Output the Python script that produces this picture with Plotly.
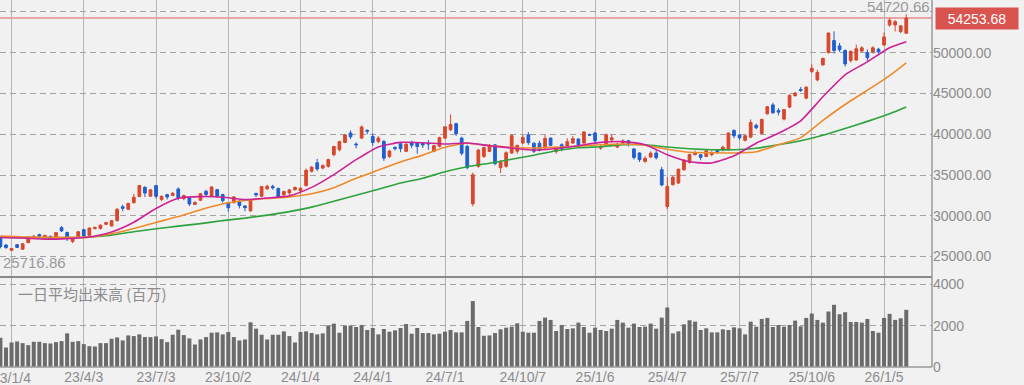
import pandas as pd
import plotly.graph_objects as go

# ---------------- data (weekly) ----------------
first_week = "2022-12-19"
n_weeks = 164
weeks = pd.date_range(first_week, periods=n_weeks, freq="7D")

opens = [27300, 26400, 25760, 26450, 25900, 26700, 27250, 27690, 27330, 27480,
         27330, 28550, 27950, 26850, 27400, 28300, 27600, 28450, 28450, 28950,
         28750, 29400, 31100, 30800, 31600, 32350, 33500, 32400, 33700, 32000,
         32590, 32500, 33280, 32100, 32200, 31400, 31900, 33000, 32400, 33200,
         32600, 31600, 31600, 31800, 31200, 30600, 32750, 32400, 33300, 33600,
         33350, 32600, 32800, 33200, 33050, 33700, 35450, 36500, 35850, 36060,
         37490, 38100, 39000, 40150, 38800, 39530, 40470, 39730, 39120, 39120,
         37280, 38390, 38840, 37900, 39000, 38920, 38900, 38900, 37900, 38510,
         39530, 40550, 41300, 39530, 38510, 31458, 36060, 37280, 37900, 38700,
         35900, 36060, 37700, 37919, 38920, 39940, 38900, 38900, 38310, 39530,
         37900, 38710, 38510, 38920, 39410, 38920, 39950, 40150, 38300, 38710,
         39300, 38430, 38920, 39200, 38190, 37700, 36670, 37210, 37700, 35650,
         31136, 33820, 34020, 35650, 36550, 37500, 37490, 37280, 37500, 38000,
         38100, 38100, 40470, 39900, 39260, 39650, 41100, 40100, 42510, 43600,
         42900, 41860, 43330, 44750, 45500, 44430, 47690, 46670, 48510, 50020,
         51490, 50840, 50270, 49040, 49120, 50200, 50020, 50100, 50430, 50960,
         53400, 53410, 52590, 52390]
highs = [27500, 26550, 26050, 26550, 26650, 27450, 27600, 27800, 27650, 27550,
         28000, 28734, 28050, 27400, 28100, 28400, 28550, 28700, 28900, 29250,
         29450, 30900, 31350, 31600, 32700, 33772, 33600, 33250, 33762, 32500,
         32700, 32900, 33488, 32600, 32300, 31800, 32800, 33200, 33600, 33300,
         32700, 31700, 32400, 31900, 31300, 32050, 32800, 33650, 33800, 33800,
         33450, 33100, 33300, 33600, 33500, 35800, 36100, 36984, 36300, 37000,
         38600, 39200, 40000, 40472, 39000, 41087, 40600, 40100, 39770, 39300,
         38100, 38500, 38900, 38900, 39200, 39000, 39000, 39300, 38700, 39700,
         41000, 42426, 41400, 39700, 38700, 35300, 38200, 38500, 38800, 38800,
         36800, 37900, 39981, 38700, 39900, 40250, 39000, 39200, 39900, 39600,
         38500, 38900, 39500, 39800, 39500, 40400, 40100, 40300, 38800, 40100,
         40000, 39000, 39400, 39300, 38300, 37800, 37300, 37900, 38200, 36000,
         34700, 34900, 35800, 36900, 37600, 38000, 37600, 38100, 38000, 38200,
         38600, 40200, 40600, 40000, 40000, 41826, 41300, 41900, 43451, 43876,
         43200, 43100, 44900, 45200, 45800, 45900, 48580, 47900, 49400, 52500,
         52636, 51200, 50400, 50300, 51000, 50800, 50400, 50800, 50600, 52500,
         54200, 54000, 53400, 54720.66]
lows = [26000, 25950, 25716.86, 26050, 25800, 26650, 27150, 27350, 27250, 27050,
        27250, 28000, 26900, 26630, 27300, 27400, 27500, 28300, 28300, 28850,
        28700, 29300, 30550, 30700, 31500, 32300, 32300, 32300, 32100, 31790,
        32000, 32400, 31900, 31900, 31200, 31300, 31800, 32400, 32300, 32200,
        31600, 30487, 31500, 30900, 30550, 30500, 32300, 32300, 33200, 33200,
        32200, 32200, 32500, 33100, 32700, 33600, 35300, 35500, 35700, 35900,
        37300, 37900, 38900, 39400, 38270, 39400, 40000, 38600, 38900, 36733,
        37100, 38000, 37800, 37800, 38300, 37617, 38300, 38100, 37800, 38400,
        39400, 40400, 39800, 37400, 35700, 31156, 35900, 37100, 37800, 36200,
        35250, 35900, 37600, 37600, 38800, 38700, 37700, 37900, 38200, 38500,
        37600, 37900, 38400, 38800, 38600, 38800, 39800, 38800, 38100, 38600,
        39000, 38300, 38800, 38500, 36900, 36600, 36500, 37100, 36900, 33600,
        30792, 33700, 33900, 35500, 36400, 37400, 36800, 37200, 37300, 37600,
        37900, 38000, 39500, 39300, 39100, 39500, 40600, 40000, 42400, 42500,
        42300, 41700, 43200, 44600, 45200, 44300, 47500, 46500, 48400, 49900,
        49900, 50100, 48300, 48800, 49000, 50100, 49000, 49900, 49900, 50800,
        53200, 52600, 52400, 52300]
closes = [26235, 26095, 25974, 26120, 26554, 27382, 27509, 27420, 27600, 27100,
          27927, 28143, 27333, 27200, 28041, 27518, 28493, 28564, 28856, 29157,
          29388, 30808, 30916, 31524, 32265, 33706, 32781, 33189, 32388, 32391,
          32304, 32759, 32192, 32473, 31450, 31624, 32710, 32606, 33533, 32402,
          31857, 30994, 32315, 31259, 30991, 31950, 32568, 33585, 33626, 33432,
          32308, 32970, 33169, 33464, 33377, 35577, 35963, 35751, 36158, 36897,
          38487, 39098, 39910, 39688, 38707, 40888, 40369, 38992, 39523, 37068,
          37934, 38236, 38229, 38787, 38646, 38488, 38683, 38814, 38596, 39583,
          40912, 41190, 40063, 37667, 35909, 35025, 38062, 38364, 38647, 36391,
          36581, 37723, 39829, 38635, 39605, 38981, 37913, 38053, 39500, 38642,
          38284, 38208, 39091, 39470, 38701, 40281, 39895, 39190, 38451, 39931,
          39572, 38787, 39149, 38776, 37155, 36887, 37053, 37677, 37120, 33780,
          33585, 34730, 35705, 36831, 37503, 37753, 37160, 37965, 37741, 37834,
          38403, 40150, 39811, 39570, 39819, 41456, 40800, 41820, 43378, 42633,
          42718, 43018, 44768, 45045, 45354, 45769, 48088, 47582, 49299, 52411,
          50276, 50376, 48625, 50167, 50491, 50600, 49400, 50600, 50100, 51940,
          54000, 53810, 53300, 54253.68]
volume = [1415, 943, 1187, 1236, 1154, 1057, 1220, 1220, 1154, 1138,
          1203, 1252, 1626, 1220, 1252, 1106, 1008, 992, 1154, 1154,
          1366, 1431, 1285, 1528, 1496, 1577, 1447, 1447, 1480, 1350,
          1203, 1561, 1805, 1545, 1382, 1089, 1333, 1447, 1659, 1675,
          1577, 1691, 1447, 1285, 1333, 2163, 1854, 1561, 1333, 1561,
          1561, 1724, 1496, 1187, 1691, 1724, 1642, 1577, 1626, 2016,
          2098, 1659, 2000, 2000, 1935, 2033, 1789, 1886, 1577, 1837,
          1707, 1772, 1886, 2081, 1610, 1886, 1642, 1642, 1577, 1610,
          1707, 1789, 1675, 1675, 2228, 3187, 1935, 1512, 1528, 1642,
          1821, 1902, 1951, 2114, 1707, 1659, 1659, 2228, 2390, 2276,
          1740, 2033, 1837, 1870, 2146, 1935, 1659, 1902, 1789, 1740,
          1854, 2276, 2146, 1902, 2098, 1935, 1951, 2098, 1854, 2390,
          2878, 1626, 1724, 2065, 2260, 2195, 1789, 1870, 1675, 1675,
          1821, 1789, 1919, 1870, 1577, 2195, 1951, 2325, 2374, 1935,
          2033, 1951, 2033, 2244, 1967, 2374, 2585, 2276, 2146, 2683,
          3008, 2553, 2650, 2179, 2179, 2146, 2325, 1740, 1659, 2374,
          2569, 2276, 2358, 2764]

# moving averages every 4 weeks (week numbers)
ma_weeks = [0, 4, 8, 12, 16, 20, 24, 28, 32, 36, 40, 44, 48, 52, 56, 60, 64, 68,
            72, 76, 80, 84, 88, 92, 96, 100, 104, 108, 112, 116, 120, 124, 128,
            132, 136, 140, 144, 148, 152, 156, 160, 163]
ma13 = [27330, 27270, 27140, 27200, 27390, 28000, 29200, 30900, 32150, 32350,
        32280, 31990, 32180, 32450, 33480, 35050, 36880, 38450, 39000, 38950,
        38800, 38930, 38590, 38310, 38050, 38250, 38600, 39000, 39100, 38710,
        37490, 36630, 36480, 37360, 38900, 40120, 41650, 44600, 47290, 48880,
        50620, 51360]
ma26 = [27500, 27400, 27370, 27360, 27380, 27800, 28450, 29180, 29900, 30750,
        31450, 31870, 32120, 32320, 32700, 33450, 34600, 35600, 36600, 37440,
        38400, 38900, 38600, 38380, 38310, 38410, 38530, 38710, 38800, 38650,
        38160, 37790, 37730, 37700, 37850, 38710, 39590, 41700, 43650, 45400,
        47200, 48770]
ma52 = [27360, 27330, 27300, 27300, 27390, 27630, 28050, 28400, 28730, 29040,
        29410, 29710, 30080, 30510, 31060, 31770, 32530, 33260, 34020, 34610,
        35410, 36020, 36450, 36940, 37430, 37980, 38350, 38470, 38710, 38710,
        38430, 38220, 38100, 38100, 38290, 38710, 39200, 39880, 40714, 41580,
        42520, 43350]

tick_dates = ["2023-01-02", "2023-04-03", "2023-07-03", "2023-10-02", "2024-01-01",
              "2024-04-01", "2024-07-01", "2024-10-07", "2025-01-06", "2025-04-07",
              "2025-07-07", "2025-10-06", "2026-01-05"]
tick_labels = ["23/1/4", "23/4/3", "23/7/3", "23/10/2", "24/1/4", "24/4/1", "24/7/1",
               "24/10/7", "25/1/6", "25/4/7", "25/7/7", "25/10/6", "26/1/5"]

price_ticks = [25000, 30000, 35000, 40000, 45000, 50000, 55000]
price_labels = ["25000.00", "30000.00", "35000.00", "40000.00", "45000.00", "50000.00", ""]
vol_ticks = [0, 2000, 4000]
vol_labels = ["0", "2000", "4000"]

last_close = closes[-1]
max_high = max(highs)
min_low = min(lows)

# ---------------- style ----------------
BG = "#f1f1f1"
UP = "#d8472c"
DOWN = "#1f5fd0"
GRID_H = "#a3a3a3"
GRID_V = "#b4b4b4"
TXT = "#8c8c8c"
FONT = "Liberation Sans, Arial, sans-serif"

ma_x = [weeks[i] for i in ma_weeks]

fig = go.Figure()
fig.add_trace(go.Candlestick(
    x=weeks, open=opens, high=highs, low=lows, close=closes,
    increasing=dict(line=dict(color=UP, width=1), fillcolor=UP),
    decreasing=dict(line=dict(color=DOWN, width=1), fillcolor=DOWN),
    whiskerwidth=0, xaxis="x", yaxis="y", hoverinfo="skip"))
for vals, col in [(ma52, "#2ea23c"), (ma26, "#ef8a2b"), (ma13, "#cc2297")]:
    fig.add_trace(go.Scatter(x=ma_x, y=vals, mode="lines",
                             line=dict(color=col, width=1.6, shape="spline", smoothing=0.6),
                             xaxis="x", yaxis="y", hoverinfo="skip"))
fig.add_trace(go.Bar(x=weeks, y=volume, marker=dict(color="#6b6b6b", line=dict(width=0)),
                     xaxis="x2", yaxis="y2", hoverinfo="skip"))

x_range = ["2022-12-18 11:00", "2026-03-06 10:00"]
split = 90 / 367

# first tick label sits on the left edge and is drawn as an annotation (cut by the edge)
axis_labels = [""] + tick_labels[1:]

fig.update_layout(
    width=1024, height=385,
    margin=dict(l=0, r=92, t=0, b=18),
    paper_bgcolor=BG, plot_bgcolor=BG,
    showlegend=False, hovermode=False,
    bargap=0.28,
    font=dict(family=FONT, color=TXT, size=14),
    xaxis=dict(domain=[0, 1], anchor="y", type="date", range=x_range,
               tickvals=tick_dates, ticktext=tick_labels, showticklabels=False,
               showgrid=True, gridcolor=GRID_V, gridwidth=1, zeroline=False,
               showline=False, ticks="", rangeslider=dict(visible=False)),
    xaxis2=dict(domain=[0, 1], anchor="y2", type="date", range=x_range, matches="x",
                tickvals=tick_dates, ticktext=axis_labels, showticklabels=True,
                tickfont=dict(size=14, color=TXT, family=FONT),
                showgrid=True, gridcolor=GRID_V, gridwidth=1, zeroline=False,
                showline=False, ticks=""),
    yaxis=dict(domain=[split, 1], anchor="x", side="right", range=[22489, 56469],
               tickvals=price_ticks, ticktext=price_labels,
               tickfont=dict(size=14, color=TXT, family=FONT),
               showgrid=True, gridcolor=GRID_H, griddash="6px,4px", gridwidth=1,
               zeroline=False, showline=False, ticks=""),
    yaxis2=dict(domain=[0, split], anchor="x2", side="right", range=[0, 4353],
                tickvals=vol_ticks, ticktext=vol_labels,
                tickfont=dict(size=14, color=TXT, family=FONT),
                showgrid=True, gridcolor=GRID_H, griddash="6px,4px", gridwidth=1,
                zeroline=False, showline=False, ticks=""),
)

shapes = [
    dict(type="line", xref="paper", yref="y", x0=0, x1=1, y0=last_close, y1=last_close,
         line=dict(color="#eba4a4", width=2), layer="below"),
    dict(type="line", xref="paper", yref="paper", x0=0, x1=1, y0=split, y1=split,
         line=dict(color="#8a8a8a", width=2)),
    dict(type="line", xref="paper", yref="paper", x0=1, x1=1, y0=0, y1=1,
         line=dict(color="#9a9a9a", width=1.5)),
    dict(type="line", xref="paper", yref="paper", x0=0, x1=1, y0=0, y1=0,
         line=dict(color="#9a9a9a", width=1.5)),
]
fig.update_layout(shapes=shapes)

annotations = [
    dict(xref="paper", yref="y", x=1, y=last_close, xanchor="left", yanchor="middle",
         xshift=3, text=f"{last_close:.2f}", showarrow=False,
         bgcolor="#d9534f", font=dict(color="white", size=14, family=FONT),
         width=78, height=17, borderpad=2, align="center"),
    dict(xref="paper", yref="y", x=1, y=max_high, xanchor="right", yanchor="bottom",
         yshift=-3, text=f"{max_high:.2f}", showarrow=False,
         font=dict(color="#9a9a9a", size=15, family=FONT)),
    dict(xref="paper", yref="y", x=0, y=min_low, xanchor="left", yanchor="top",
         xshift=1, yshift=-1, text=f"{min_low:.2f}", showarrow=False,
         font=dict(color="#9a9a9a", size=15, family=FONT)),
    dict(xref="paper", yref="paper", x=0, y=(367 - 293) / 367, xanchor="left", yanchor="middle",
         xshift=16, text="一日平均出来高 (百万)", showarrow=False,
         font=dict(color=TXT, size=15, family="Noto Sans CJK JP, " + FONT)),
    dict(xref="x2", yref="paper", x=tick_dates[0], y=0, xanchor="center", yanchor="top",
         yshift=-1, text=tick_labels[0], showarrow=False,
         font=dict(color=TXT, size=14, family=FONT)),
]
fig.update_layout(annotations=annotations)

fig.write_html(
    "out.html",
    config={"displayModeBar": False},
    post_script="document.body.style.margin='0px';document.body.style.overflow='hidden';",
)
